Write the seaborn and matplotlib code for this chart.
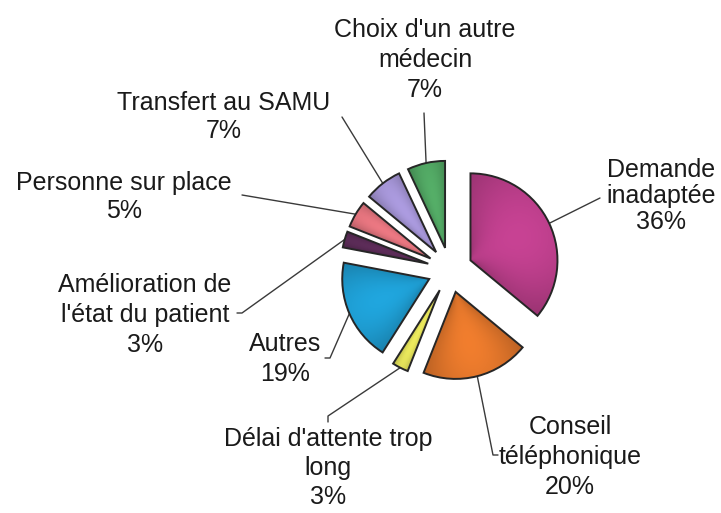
import numpy as np
import matplotlib
matplotlib.use("Agg")
import matplotlib.pyplot as plt
import seaborn as sns
from matplotlib.colors import to_rgb

sns.set_theme(style="white")
plt.rcParams['font.family'] = ['Liberation Sans', 'DejaVu Sans']

# %% data
categories = ["Demande\ninadaptée", "Conseil\ntéléphonique", "Délai d'attente trop\nlong",
              "Autres", "Amélioration de\nl'état du patient", "Personne sur place",
              "Transfert au SAMU", "Choix d'un autre\nmédecin"]
values = [36, 20, 3, 19, 3, 5, 7, 7]
colors = ["#c0408e", "#e8792c", "#e4e25a", "#1fa0d6", "#5a2b56", "#e4747e", "#a696d8", "#52a864"]

# %% layout (pixels of the 721x513 picture), pie centre and radius in px
CX, CY, R = 450, 270, 87
label_pos = [(661, 196), (570, 457), (328, 468), (285, 359), (145, 315), (124, 197), (224, 117), (425, 60)]
line_gap = [1.1, 1.32, 1.28, 1.32, 1.32, 1.25, 1.25, 1.32]
leader_end = [(600, 198), (493, 455), (328, 416), (330, 358), (242, 313), (242, 195), (342, 117), (424, 113)]
leader_tick = [(0, 0), (5, 0), (0, 6), (-5, 0), (-5, 0), (0, 0), (0, 0), (0, 0)]


def to_data(p):
    return (p[0] - CX) / R, (CY - p[1]) / R


fig = plt.figure(figsize=(7.21, 5.13), dpi=100)
ax = fig.add_axes([0, 0, 1, 1])

wedges, _ = ax.pie(values, colors=colors, startangle=90, counterclock=False,
                   explode=[0.26] * len(values), radius=1,
                   wedgeprops=dict(edgecolor="#262626", linewidth=1.4))

# shaded fill for each wedge (lighter in the middle, darker at the borders)
n = 220
for w, c in zip(wedges, colors):
    cx, cy = w.center
    xs = np.linspace(cx - 1, cx + 1, n)
    ys = np.linspace(cy - 1, cy + 1, n)
    gx, gy = np.meshgrid(xs, ys)
    ang = np.degrees(np.arctan2(gy - cy, gx - cx))
    span = w.theta2 - w.theta1
    u = ((ang - w.theta1) % 360) / span * 2 - 1
    v = np.hypot(gx - cx, gy - cy)
    s = 1 - 0.5 * np.clip(u, -1, 1) ** 2 - 0.3 * ((v - 0.6) / 0.6) ** 2
    s = np.clip(s, 0, 1)
    img = np.clip(np.array(to_rgb(c))[None, None, :] * (0.66 + 0.38 * s[..., None]), 0, 1)
    im = ax.imshow(img, origin="lower", extent=[cx - 1, cx + 1, cy - 1, cy + 1],
                   zorder=2, interpolation="bilinear")
    im.set_clip_path(w)
    w.set_facecolor("none")
    w.set_zorder(3)

# leader lines and labels
for w, cat, val, lp, gap, le, tk in zip(wedges, categories, values, label_pos,
                                        line_gap, leader_end, leader_tick):
    mid = np.radians((w.theta1 + w.theta2) / 2)
    px_, py_ = w.center[0] + w.r * np.cos(mid), w.center[1] + w.r * np.sin(mid)
    ex, ey = to_data(le)
    tx2, ty2 = to_data((le[0] + tk[0], le[1] + tk[1]))
    ax.plot([px_, ex, tx2], [py_, ey, ty2], color="#3a3a3a", lw=1, zorder=1)
    tx, ty = to_data(lp)
    ax.text(tx, ty, f"{cat}\n{val}%", ha="center", va="center", fontsize=18,
            linespacing=gap, color="#1a1a1a", zorder=4)

x0, y0 = to_data((0, 513))
x1, y1 = to_data((721, 0))
ax.set_xlim(x0, x1)
ax.set_ylim(y0, y1)
ax.set_aspect("equal")
ax.axis("off")

fig.savefig("out.png", dpi=100)
